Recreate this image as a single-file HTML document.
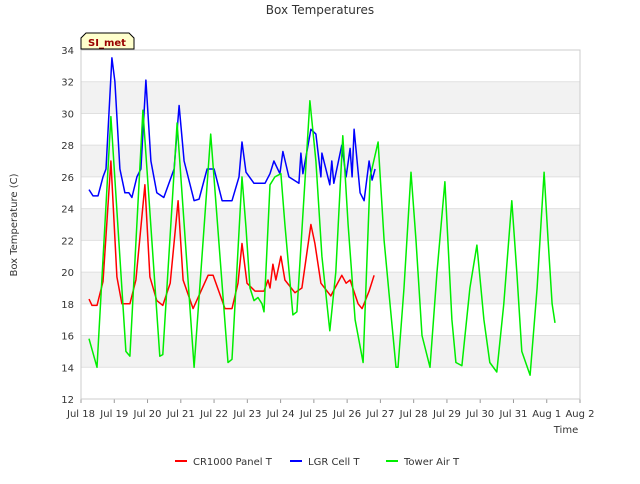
<!DOCTYPE html>
<html><head><meta charset="utf-8"><style>
body{margin:0;background:#fff;font-family:"DejaVu Sans",sans-serif}
</style></head><body>
<svg width="640" height="480" viewBox="0 0 640 480" xmlns="http://www.w3.org/2000/svg" font-family="DejaVu Sans, Liberation Sans, sans-serif">
<g id="plot"></g>
</svg>
<script>
const yTicks=[12,14,16,18,20,22,24,26,28,30,32,34];
const xTickLabels=["Jul 18","Jul 19","Jul 20","Jul 21","Jul 22","Jul 23","Jul 24","Jul 25","Jul 26","Jul 27","Jul 28","Jul 29","Jul 30","Jul 31","Aug 1","Aug 2"];
const redT=[0.24,0.33,0.48,0.66,0.9,1.08,1.23,1.47,1.65,1.92,2.07,2.28,2.46,2.68,2.92,3.07,3.37,3.82,3.97,4.33,4.54,4.72,4.84,4.99,5.23,5.5,5.62,5.68,5.77,5.86,6.01,6.13,6.43,6.64,6.91,7.03,7.21,7.51,7.84,7.97,8.09,8.33,8.45,8.66,8.81];
const redV=[18.3,17.9,17.9,19.4,27,19.7,18,18,19.5,25.5,19.7,18.2,17.9,19.3,24.5,19.5,17.7,19.8,19.8,17.7,17.7,19.3,21.8,19.3,18.8,18.8,19.5,19,20.5,19.5,21,19.5,18.7,19,23,21.8,19.3,18.5,19.8,19.3,19.5,18,17.7,18.8,19.8];
const blueT=[0.24,0.36,0.51,0.66,0.75,0.93,1.02,1.17,1.32,1.44,1.53,1.68,1.8,1.95,2.1,2.28,2.49,2.8,2.95,3.1,3.4,3.55,3.79,4.0,4.24,4.54,4.75,4.84,4.96,5.2,5.53,5.68,5.8,5.98,6.07,6.25,6.55,6.61,6.67,6.91,7.06,7.21,7.24,7.48,7.54,7.6,7.84,7.97,8.09,8.15,8.21,8.39,8.51,8.66,8.75,8.84];
const blueV=[25.2,24.8,24.8,26,26.5,33.5,32,26.5,25,25,24.7,26,26.5,32.1,27,25,24.7,26.5,30.5,27,24.5,24.6,26.5,26.5,24.5,24.5,26,28.2,26.3,25.6,25.6,26.2,27,26.2,27.6,26,25.6,27.5,26.2,29,28.7,26,27.5,25.5,27,25.6,28,26,27.8,26,29,25,24.5,27,25.8,26.5];
const greenT=[0.24,0.48,0.9,1.35,1.47,1.86,2.37,2.46,2.89,3.4,3.9,4.42,4.54,4.84,4.96,5.08,5.2,5.32,5.44,5.5,5.68,5.83,6.01,6.13,6.37,6.49,6.88,7.06,7.24,7.48,7.66,7.87,8.03,8.24,8.48,8.69,8.93,9.11,9.29,9.47,9.53,9.71,9.92,10.07,10.25,10.49,10.7,10.94,11.15,11.27,11.45,11.69,11.9,12.11,12.29,12.5,12.71,12.95,13.1,13.25,13.5,13.71,13.92,14.04,14.16,14.25];
const greenV=[15.8,14,29.8,15,14.7,30.2,14.7,14.8,29.4,14,28.7,14.3,14.5,26,22.8,19,18.2,18.4,18,17.5,25.5,26,26.2,23,17.3,17.5,30.8,27,21,16.3,20,28.6,23,17,14.3,26,28.2,22,18,14,14,19,26.3,22,16,14,20,25.7,17,14.3,14.1,19,21.7,17,14.3,13.7,18,24.5,20,15,13.5,19,26.3,22,18,16.8];
const X0=81,X1=580,Y0=399,Y1=50;
const xs=t=>X0+t*(X1-X0)/15;
const ys=v=>Y0-(v-12)*(Y0-Y1)/22;
const NS="http://www.w3.org/2000/svg";
const svg=document.querySelector('svg');
function mk(tag,attrs,parent){const e=document.createElementNS(NS,tag);for(const k in attrs)e.setAttribute(k,attrs[k]);(parent||svg).appendChild(e);return e;}
for(let i=0;i<yTicks.length-1;i++){
  if(i%2===1){const r=mk('rect',{x:X0,y:ys(yTicks[i+1]),width:X1-X0,height:ys(yTicks[i])-ys(yTicks[i+1]),fill:'#f2f2f2'});
  
  }
}
yTicks.forEach(v=>{
  const l=mk('line',{x1:X0,x2:X1,y1:ys(v),y2:ys(v),stroke:'#e0e0e0','stroke-width':1});
  
  
  const t=mk('text',{x:74,y:ys(v)+4,'text-anchor':'end','font-size':10,fill:'#333'});
  t.textContent=v;
  
  
});
xTickLabels.forEach((s,i)=>{
  const l=mk('line',{x1:xs(i),x2:xs(i),y1:Y0,y2:Y0+4,stroke:'#999'});
  
  
  const t=mk('text',{x:xs(i),y:417,'text-anchor':'middle','font-size':10,fill:'#333'});
  t.textContent=s;
  
  
});
const fr=mk('rect',{x:X0,y:Y1,width:X1-X0,height:Y0-Y1,fill:'none',stroke:'#ccc'});


function series(T,V,color,name){
  const p=mk('polyline',{points:T.map((t,i)=>xs(t).toFixed(1)+','+ys(V[i]).toFixed(1)).join(' '),fill:'none',stroke:color,'stroke-width':1.5,'stroke-linejoin':'round'});
  
  
}
series(redT,redV,'#ff0000','series-cr1000-panel-t');
series(blueT,blueV,'#0000ff','series-lgr-cell-t');
series(greenT,greenV,'#00ee00','series-tower-air-t');
</script>
<svg width="640" height="480" style="position:absolute;left:0;top:0" font-family="DejaVu Sans, Liberation Sans, sans-serif">
<text x="320" y="14" text-anchor="middle" font-size="12" fill="#333">Box Temperatures</text>
<text transform="translate(17,225) rotate(-90)" text-anchor="middle" font-size="10" fill="#333">Box Temperature (C)</text>
<text x="566" y="433" text-anchor="middle" font-size="10" fill="#333">Time</text>
<path d="M81,49 L81,38 L86,33 L129,33 L134,38 L134,49 Z" fill="#ffffcc" stroke="#000"/>
<text x="107" y="46" text-anchor="middle" font-size="10" font-weight="bold" fill="#990000">SI_met</text>
<g font-size="10" fill="#333">
<line x1="175" x2="187" y1="461" y2="461" stroke="#ff0000" stroke-width="2"/>
<text x="193" y="465">CR1000 Panel T</text>
<line x1="290" x2="302" y1="461" y2="461" stroke="#0000ff" stroke-width="2"/>
<text x="308" y="465">LGR Cell T</text>
<line x1="386" x2="398" y1="461" y2="461" stroke="#00ee00" stroke-width="2"/>
<text x="404" y="465">Tower Air T</text>
</g>
</svg>
</body></html>
